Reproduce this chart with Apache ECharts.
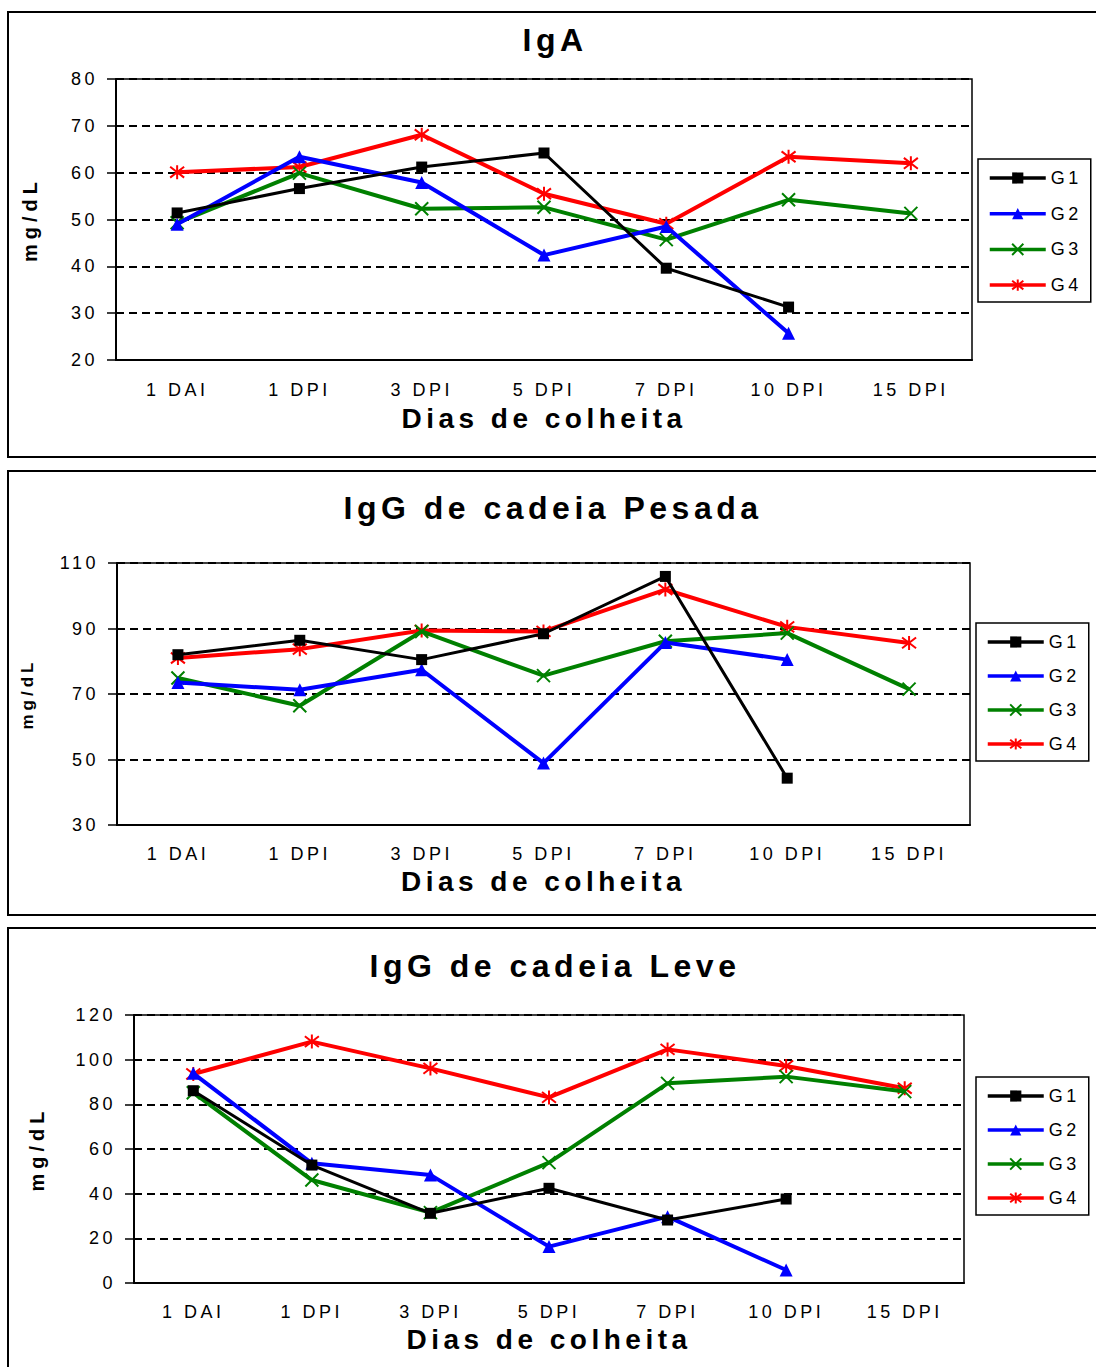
<!DOCTYPE html>
<html>
<head>
<meta charset="utf-8">
<script src="https://cdn.jsdelivr.net/npm/echarts@6/dist/echarts.min.js"></script>
<style>
  html, body { margin: 0; padding: 0; background: #fff; }
  #main { width: 1096px; height: 1367px; }
  #main text { letter-spacing: 3.5px; }
</style>
</head>
<body>
<div id="main"></div>
<script>
// categorias (dias de colheita)
const categories = ['1 DAI', '1 DPI', '3 DPI', '5 DPI', '7 DPI', '10 DPI', '15 DPI']
const groupNames = ['G1', 'G2', 'G3', 'G4']

// IgA (mg/dL)
const igaG1 = [51.4, 56.6, 61.2, 64.2, 39.6, 31.3, null]
const igaG2 = [49.0, 63.4, 57.9, 42.4, 48.5, 25.7, null]
const igaG3 = [49.3, 59.9, 52.3, 52.6, 45.7, 54.2, 51.3]
const igaG4 = [60.1, 61.2, 68.1, 55.5, 49.1, 63.4, 62.0]

// IgG de cadeia Pesada (mg/dL)
const pesadaG1 = [82.0, 86.4, 80.5, 88.4, 105.9, 44.3, null]
const pesadaG2 = [73.5, 71.3, 77.4, 48.9, 85.7, 80.5, null]
const pesadaG3 = [74.9, 66.4, 89.1, 75.6, 86.1, 88.6, 71.5]
const pesadaG4 = [81.0, 83.7, 89.4, 89.1, 101.9, 90.5, 85.6]

// IgG de cadeia Leve (mg/dL)
const leveG1 = [86.1, 52.8, 31.2, 42.4, 28.2, 37.6, null]
const leveG2 = [93.9, 53.6, 48.4, 16.3, 29.7, 5.8, null]
const leveG3 = [85.2, 46.1, 31.5, 53.9, 89.4, 92.4, 85.7]
const leveG4 = [93.6, 108.1, 96.1, 83.1, 104.6, 97.2, 87.2]

const titles = ['IgA', 'IgG de cadeia Pesada', 'IgG de cadeia Leve']
const yAxisTitle = 'mg/dL'
const xAxisTitle = 'Dias de colheita'

const FONT = '"Liberation Sans", Arial, sans-serif'

const styles = [
  { color: '#000000', symbol: 'rect', size: 11, width: 3 },
  { color: '#0000ff', symbol: 'triangle', size: 13, width: 4 },
  { color: '#008000', symbol: 'path://M0,0L10,10M10,0L0,10', size: 13, width: 4 },
  { color: '#ff0000', symbol: 'path://M0,0L10,10M10,0L0,10M5,-1.5L5,11.5', size: 14, width: 4 }
]

const panels = [
  { data: [igaG1, igaG2, igaG3, igaG4], min: 20, max: 80, interval: 10,
    grid: { left: 116, top: 79, width: 856, height: 281 },
    title: { x: 555, y: 40 }, yName: { gap: 76, size: 20 }, xNameGap: 44, labelMargin: 21,
    legend: { left: 978, top: 159, gap: 17.7 }, box: { y: 12, h: 445 } },
  { data: [pesadaG1, pesadaG2, pesadaG3, pesadaG4], min: 30, max: 110, interval: 20,
    grid: { left: 117, top: 563, width: 853, height: 262 },
    title: { x: 553, y: 508 }, yName: { gap: 81, size: 17 }, xNameGap: 42, labelMargin: 20,
    legend: { left: 976, top: 623, gap: 16 }, box: { y: 471, h: 444 } },
  { data: [leveG1, leveG2, leveG3, leveG4], min: 0, max: 120, interval: 20,
    grid: { left: 134, top: 1015, width: 830, height: 268 },
    title: { x: 555, y: 966 }, yName: { gap: 87, size: 20 }, xNameGap: 42, labelMargin: 20,
    legend: { left: 976, top: 1077, gap: 16 }, box: { y: 928, h: 460 } }
]

const chart = echarts.init(document.getElementById('main'), null, { renderer: 'svg' })

const option = {
  animation: false,
  backgroundColor: '#fff',
  textStyle: { fontFamily: FONT, color: '#000' },
  title: panels.map((p, i) => ({
    text: titles[i],
    left: p.title.x,
    top: p.title.y - 16,
    textAlign: 'center',
    padding: 0,
    textStyle: { fontWeight: 'bold', fontSize: 32, color: '#000' }
  })),
  legend: panels.map((p, i) => ({
    data: groupNames,
    orient: 'vertical',
    left: p.legend.left,
    top: p.legend.top,
    itemWidth: 56,
    itemHeight: 14,
    itemGap: p.legend.gap,
    padding: [10, 16, 8, 10],
    borderColor: '#000',
    borderWidth: 1.5,
    selectedMode: false,
    lineStyle: { width: 3.5 },
    textStyle: { fontSize: 18, color: '#000', fontFamily: FONT }
  })),
  grid: panels.map(p => Object.assign({ show: true, borderColor: '#000', borderWidth: 1.5 }, p.grid)),
  xAxis: panels.map((p, i) => ({
    type: 'category',
    gridIndex: i,
    data: categories,
    boundaryGap: true,
    name: xAxisTitle,
    nameLocation: 'middle',
    nameGap: p.xNameGap,
    nameTextStyle: { fontWeight: 'bold', fontSize: 28, color: '#000' },
    axisLine: { lineStyle: { color: '#000', width: 2 } },
    axisTick: { length: 7, lineStyle: { color: '#000', width: 2 } },
    axisLabel: { fontSize: 18, color: '#000', margin: p.labelMargin },
    splitLine: { show: false }
  })),
  yAxis: panels.map((p, i) => ({
    type: 'value',
    gridIndex: i,
    min: p.min,
    max: p.max,
    interval: p.interval,
    name: yAxisTitle,
    nameLocation: 'middle',
    nameRotate: 90,
    nameGap: p.yName.gap,
    nameTextStyle: { fontWeight: 'bold', fontSize: p.yName.size, color: '#000' },
    axisLine: { show: true, lineStyle: { color: '#000', width: 2 } },
    axisTick: { show: true, length: 9, lineStyle: { color: '#000', width: 1.5 } },
    axisLabel: { fontSize: 18, color: '#000', margin: 18 },
    splitLine: { lineStyle: { color: '#000', width: 1.8, type: [8, 5] } }
  })),
  graphic: panels.map(p => ({
    type: 'rect',
    z: -1,
    shape: { x: 8, y: p.box.y, width: 1100, height: p.box.h },
    style: { fill: 'none', stroke: '#000', lineWidth: 2 }
  })),
  series: []
}

panels.forEach((p, gi) => {
  p.data.forEach((values, si) => {
    const s = styles[si]
    option.series.push({
      name: groupNames[si],
      type: 'line',
      xAxisIndex: gi,
      yAxisIndex: gi,
      data: values,
      connectNulls: false,
      symbol: s.symbol,
      symbolSize: s.size,
      showAllSymbol: true,
      lineStyle: { color: s.color, width: s.width },
      itemStyle: { color: s.color, borderColor: s.color, borderWidth: si >= 2 ? 2 : 0 },
      z: 10 - si
    })
  })
})

chart.setOption(option)

// espaçamento entre letras como no original
function spaceTexts() {
  document.querySelectorAll('#main text').forEach(t => {
    const cs = getComputedStyle(t)
    const fs = parseFloat(cs.fontSize)
    if (fs >= 27) t.style.letterSpacing = '4.5px'
    else if (fs >= 19 && cs.fontWeight >= 600) t.style.letterSpacing = '5px'
    else if (cs.fontWeight >= 600) t.style.letterSpacing = '4px'
  })
}
chart.on('finished', spaceTexts)
setTimeout(spaceTexts, 50)
</script>
</body>
</html>
